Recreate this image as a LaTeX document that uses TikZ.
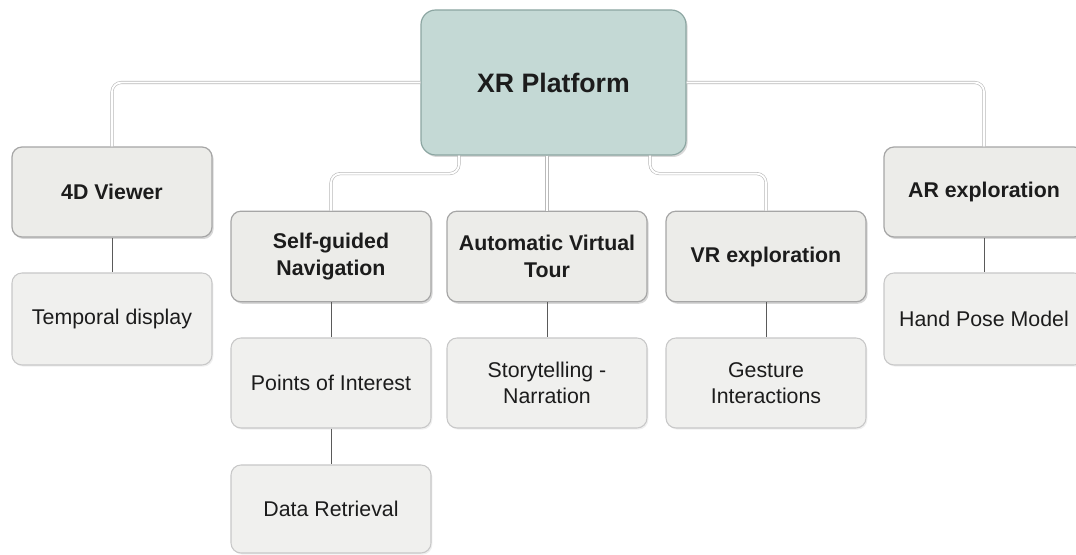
\documentclass[tikz,border=0pt]{standalone}
\usepackage{fontspec}
\setmainfont{Liberation Sans}
\usetikzlibrary{shadows,calc}
\definecolor{xrfill}{RGB}{196,217,213}
\definecolor{xrdraw}{RGB}{140,166,162}
\definecolor{hfill}{RGB}{236,236,233}
\definecolor{hdraw}{RGB}{166,166,166}
\definecolor{cfill}{RGB}{240,240,238}
\definecolor{cdraw}{RGB}{200,200,200}
\definecolor{txt}{RGB}{28,28,28}
\definecolor{conng}{RGB}{185,185,185}
\definecolor{subg}{RGB}{90,90,90}
\begin{document}
\begin{tikzpicture}[x=0.75pt,y=-0.75pt,
  box/.style={rectangle, rounded corners=7.5pt, minimum width=150pt, align=center,
    text=txt, inner sep=2pt, font=\fontsize{16}{20}\selectfont},
  headbox/.style={box, fill=hfill, draw=hdraw, line width=0.9pt, font=\fontsize{16}{20}\selectfont\bfseries,
    drop shadow={shadow xshift=1.2pt, shadow yshift=-1.5pt, opacity=0.25, fill=black!60}},
  childbox/.style={box, fill=cfill, draw=cdraw, line width=0.8pt,
    drop shadow={shadow xshift=1pt, shadow yshift=-1.2pt, opacity=0.12, fill=black!50}},
  rootbox/.style={rectangle, rounded corners=11pt, fill=xrfill, draw=xrdraw, line width=0.9pt,
    minimum width=198.75pt, minimum height=108.75pt, text=txt,
    font=\fontsize{20}{24}\selectfont\bfseries,
    drop shadow={shadow xshift=1.2pt, shadow yshift=-1.5pt, opacity=0.25, fill=black!60}},
  conn/.style={draw=conng, line width=0.45pt, double=white, double distance=1.4pt, rounded corners=7pt},
  sub/.style={draw=subg, line width=0.6pt}
]
\useasboundingbox[fill=white] (0,0) rectangle (1076,555);

\node[rootbox] (xr) at (553.5,82.5) {XR Platform};

\node[headbox, minimum height=67.5pt] (v4d) at (112,192) {4D Viewer};
\node[headbox, minimum height=67.5pt] (ar) at (984,192) {AR exploration};
\node[headbox, minimum height=68pt] (self) at (331,256.5) {Self-guided\\Navigation};
\node[headbox, minimum height=68pt] (auto) at (547,256.5) {Automatic Virtual\\Tour};
\node[headbox, minimum height=68pt] (vr) at (766,256.5) {VR exploration};

\node[childbox, minimum height=69pt] (temp) at (112,319) {Temporal display};
\node[childbox, minimum height=69pt] (hand) at (984,319) {Hand Pose Model};
\node[childbox, minimum height=67.5pt] (poi) at (331,383) {Points of Interest};
\node[childbox, minimum height=67.5pt] (story) at (547,383) {Storytelling -\\Narration};
\node[childbox, minimum height=67.5pt] (gest) at (766,383) {Gesture\\Interactions};
\node[childbox, minimum height=66pt] (data) at (331,509) {Data Retrieval};

\draw[conn] (xr) -| (v4d);
\draw[conn] (xr) -| (ar);
\draw[conn] ($(xr.south)+(-94.5,0)$) -- ++(0,18) -| (self.north);
\draw[conn] (xr.south -| auto.north) -- (auto.north);
\draw[conn] ($(xr.south)+(96.5,0)$) -- ++(0,18) -| (vr.north);

\draw[sub] (v4d) -- (temp);
\draw[sub] (ar) -- (hand);
\draw[sub] (self) -- (poi);
\draw[sub] (poi) -- (data);
\draw[sub] (auto) -- (story);
\draw[sub] (vr) -- (gest);
\end{tikzpicture}
\end{document}
